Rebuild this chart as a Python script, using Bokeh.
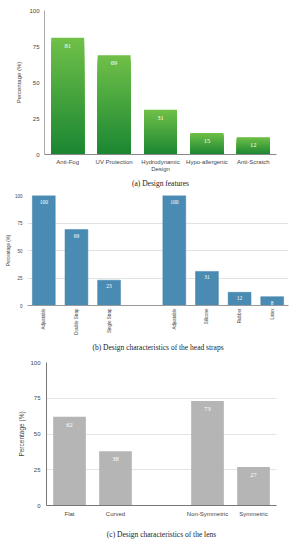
import math
from bokeh.plotting import figure
from bokeh.models import ColumnDataSource, FixedTicker, LabelSet, Title, Range1d
from bokeh.embed import file_html
from bokeh.resources import INLINE

# ---------------- data ----------------
a_labels = ["Anti-Fog", "UV Protection", "Hydrodynamic\nDesign", "Hypo-allergenic", "Anti-Scratch"]
a_values = [81, 69, 31, 15, 12]

b_labels = ["Adjustable", "Double Strap", "Single Strap", "", "Adjustable", "Silicone", "Rubber", "Latex"]
b_values = [100, 69, 23, None, 100, 31, 12, 8]

c_labels = ["Flat", "Curved", "", "Non-Symmetric", "Symmetric"]
c_values = [62, 38, None, 73, 27]

y_ticks = [0, 25, 50, 75, 100]
y_title = "Percentage (%)"
captions = ["(a) Design features",
            "(b) Design characteristics of the head straps",
            "(c) Design characteristics of the lens"]

SANS = "Liberation Sans"
SERIF = "Liberation Serif"


def make_fig(labels, width, height, left, right, top, bottom, tick_size, title_size,
             cap, cap_standoff, cap_offset):
    n = len(labels)
    p = figure(width=width, height=height, x_range=Range1d(-0.5, n - 0.5), y_range=Range1d(0, 100),
               output_backend="svg", toolbar_location=None,
               min_border_left=left, min_border_right=right, min_border_top=top, min_border_bottom=bottom)
    p.outline_line_color = None
    p.background_fill_color = "white"
    p.border_fill_color = "white"
    p.xgrid.grid_line_color = None
    ticks = [i for i, lab in enumerate(labels) if lab]
    p.xaxis.ticker = FixedTicker(ticks=ticks)
    p.xaxis.major_label_overrides = {i: labels[i] for i in ticks}
    p.yaxis.ticker = FixedTicker(ticks=y_ticks)
    for ax in (p.xaxis, p.yaxis):
        ax.major_tick_line_color = None
        ax.minor_tick_line_color = None
        ax.major_tick_out = 0
        ax.major_tick_in = 0
        ax.minor_tick_out = 0
        ax.minor_tick_in = 0
        ax.major_label_text_font = SANS
        ax.major_label_text_font_size = f"{tick_size}px"
        ax.major_label_text_color = "#444444"
    p.yaxis.axis_label = y_title
    p.yaxis.axis_label_text_font = SANS
    p.yaxis.axis_label_text_font_size = f"{title_size}px"
    p.yaxis.axis_label_text_font_style = "normal"
    p.yaxis.axis_label_text_color = "#444444"
    p.add_layout(Title(text=cap, align="center", text_font=SERIF, text_font_size="7.5px",
                       text_font_style="normal", text_color="#222222",
                       standoff=cap_standoff, offset=cap_offset), "below")
    return p


def value_labels(p, xs, vals, size, offset):
    src = ColumnDataSource(dict(x=xs, y=vals, t=[str(v) for v in vals]))
    p.add_layout(LabelSet(x="x", y="y", text="t", source=src, text_align="center",
                          text_baseline="middle", y_offset=offset, text_color="white",
                          text_font=SANS, text_font_size=f"{size}px"))


W = 296
# ---------------- (a) ----------------
pa = make_fig(a_labels, W, 190, 44, 20, 10, 34, 6, 6, captions[0], 5, 2)
N = 30
top_c = (112, 192, 72)
bot_c = (26, 134, 50)
xs, tops, cols = [], [], []
for i, v in enumerate(a_values):
    for k in range(N - 1, -1, -1):
        f = (k + 0.5) / N
        col = tuple(int(round(bot_c[j] + (top_c[j] - bot_c[j]) * f)) for j in range(3))
        xs.append(i)
        tops.append(v * (k + 1) / N)
        cols.append("#%02x%02x%02x" % col)
order = sorted(range(len(tops)), key=lambda j: -tops[j] / a_values[xs[j]])
pa.vbar(x=[xs[j] for j in order], bottom=0, top=[tops[j] for j in order], width=0.71,
        fill_color=[cols[j] for j in order], line_color=None)
pa.yaxis.axis_line_color = "#aaaaaa"
pa.xaxis.axis_line_color = "#888888"
pa.ygrid.grid_line_color = None
pa.xaxis.major_label_standoff = 4
pa.yaxis.major_label_standoff = 5
pa.yaxis.axis_label_standoff = 4
value_labels(pa, list(range(len(a_values))), a_values, 6.5, -8)

# ---------------- (b) ----------------
pb = make_fig(b_labels, W, 165, 27, 8, 5, 49, 4.5, 4.5, captions[1], 7, -11)
bx = [i for i, v in enumerate(b_values) if v is not None]
bv = [v for v in b_values if v is not None]
pb.vbar(x=bx, top=bv, width=0.7, fill_color="#4a8bb4", line_color="#3f7fa8", line_width=0.5)
pb.yaxis.axis_line_color = None
pb.xaxis.axis_line_color = "#999999"
pb.ygrid.grid_line_color = "#e2e2e2"
pb.xaxis.major_label_orientation = math.pi / 2
pb.xaxis.major_label_standoff = 3
pb.yaxis.major_label_standoff = 5
pb.yaxis.axis_label_standoff = 1
value_labels(pb, bx, bv, 5.5, -6)

# ---------------- (c) ----------------
pc = make_fig(c_labels, W, 195, 46, 20, 7, 45, 6, 6.5, captions[2], 16, -14)
cx = [i for i, v in enumerate(c_values) if v is not None]
cv = [v for v in c_values if v is not None]
pc.vbar(x=cx, top=cv, width=0.71, fill_color="#b5b5b5", line_color=None)
pc.yaxis.axis_line_color = "#777777"
pc.xaxis.axis_line_color = "#777777"
pc.ygrid.grid_line_color = "#e4e4e4"
pc.xaxis.major_label_standoff = 5
pc.yaxis.major_label_standoff = 6
pc.yaxis.axis_label_standoff = 2
value_labels(pc, cx, cv, 6.5, -8)

# separate roots so that the plot frames are not aligned with each other
open("out.html", "w").write(file_html([pa, pb, pc], INLINE))
